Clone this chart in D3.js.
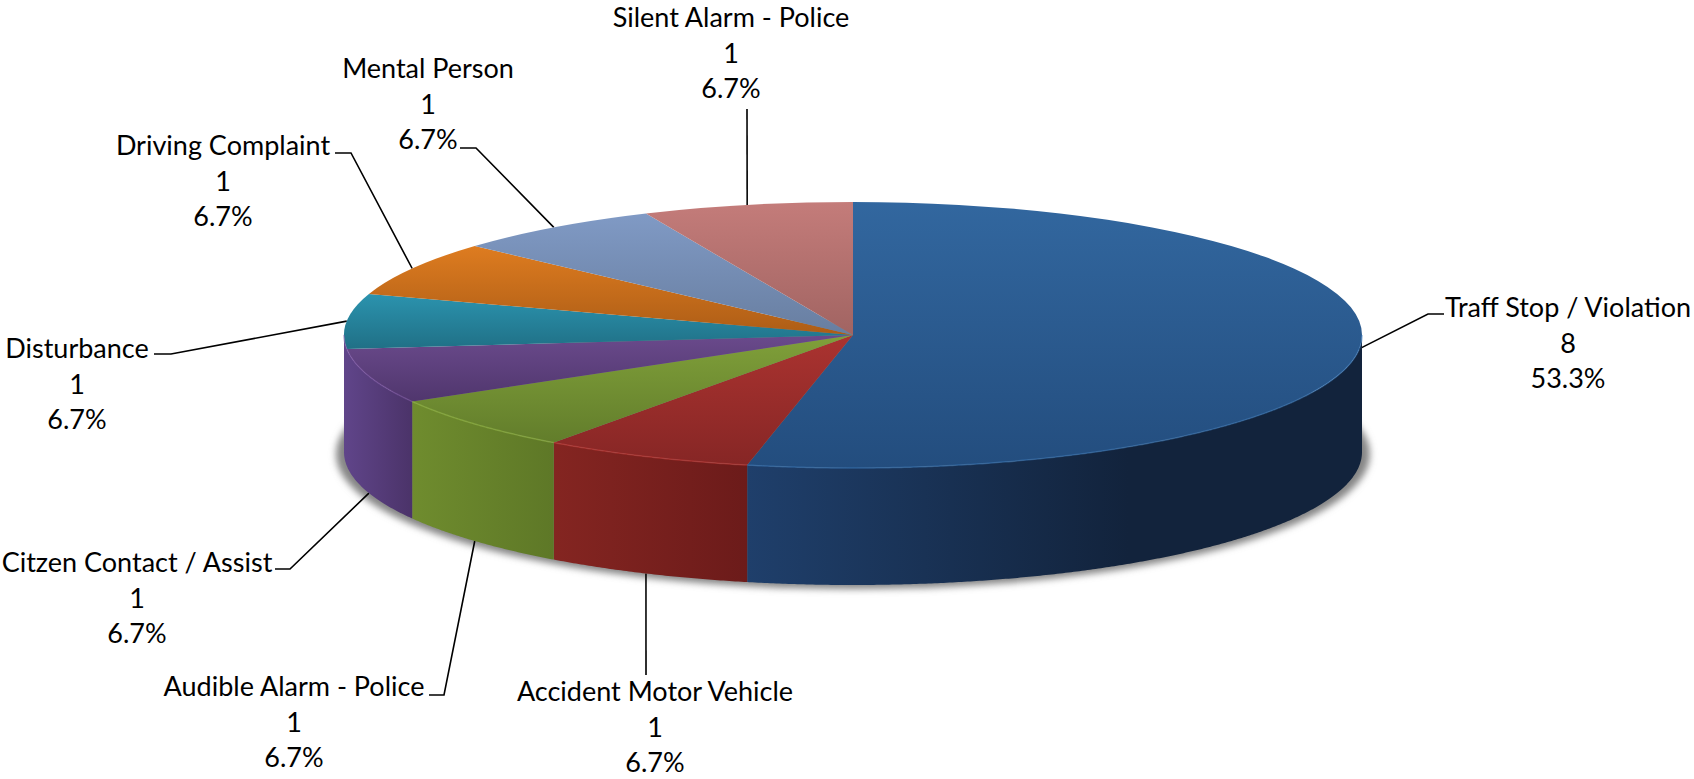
<!DOCTYPE html>
<html lang="en">
<head>
<meta charset="utf-8">
<title>Calls by type</title>
<style>
  html, body { margin: 0; padding: 0; background: #fff; overflow: hidden; }
  text { font-family: Lato, "Open Sans", sans-serif; font-size: 27px; fill: #000; }
</style>
<script src="https://d3js.org/d3.v7.min.js"></script>
</head>
<body>
<script>
// data
const categories = ["Traff Stop / Violation", "Accident Motor Vehicle", "Audible Alarm - Police",
  "Citzen Contact / Assist", "Disturbance", "Driving Complaint", "Mental Person", "Silent Alarm - Police"];
const counts = [8, 1, 1, 1, 1, 1, 1, 1];
const percents = ["53.3%", "6.7%", "6.7%", "6.7%", "6.7%", "6.7%", "6.7%", "6.7%"];

// colours, top face light/dark and side light/dark
const topLight = ["#32679f", "#ab3330", "#80a03a", "#6a4a8c", "#2b93ae", "#de7c20", "#809ac5", "#c47c7a"];
const topDark = ["#234d7e", "#862625", "#627d2b", "#50366d", "#207086", "#ad5d16", "#687ea0", "#a16462"];
const sideLight = ["#1f3f6b", "#842521", "#6f8c2e", "#60458a", "#2a7f99", "#b05f17", "#6b81a3", "#a36664"];
const sideDark = ["#12233c", "#6c1b1a", "#5e7827", "#4b3369", "#1d6478", "#8c4c12", "#566a88", "#835250"];
const sideStop = [0.62, 1, 1, 1, 1, 1, 1, 1];

// label placement: centre x, first line centre y, leader elbow x (null = straight)
const labelX = [1568, 655, 294, 137, 77, 223, 428, 731];
const labelY = [308, 692, 687, 563, 349, 146, 69, 18];
const elbowX = [1428, null, 444, 290, 171, 351, 476, null];
const tailX = [1444, 646, 429, 275, 154, 335, 460, 747];
const tailY = [314, 675, 695, 569, 354, 153, 148, 109];

const width = 1694, height = 779;
const cx = 853, cy = 335, rx = 509, ry = 133, depth = 117;
const lineGap = 35.5;

const svg = d3.select("body").append("svg").attr("width", width).attr("height", height);
const defs = svg.append("defs");

const pie = d3.pie().sort(null).value(d => d);
const slices = pie(counts);

const px = a => cx + rx * Math.sin(a);
const py = a => cy - ry * Math.cos(a);
const midAngle = d => (d.startAngle + d.endAngle) / 2;

defs.append("filter").attr("id", "soft")
  .attr("x", "-5%").attr("y", "-10%").attr("width", "110%").attr("height", "120%")
  .append("feGaussianBlur").attr("stdDeviation", 3.5);

slices.forEach((d, i) => {
  const t = defs.append("linearGradient").attr("id", "top" + i)
    .attr("x1", 0).attr("y1", 0).attr("x2", 0).attr("y2", 1);
  t.append("stop").attr("offset", 0).attr("stop-color", topLight[i]);
  t.append("stop").attr("offset", 1).attr("stop-color", topDark[i]);
  const s = defs.append("linearGradient").attr("id", "side" + i)
    .attr("x1", 0).attr("y1", 0).attr("x2", 1).attr("y2", 0);
  s.append("stop").attr("offset", 0).attr("stop-color", sideLight[i]);
  s.append("stop").attr("offset", sideStop[i]).attr("stop-color", sideDark[i]);
});

// shadow under the disc
svg.append("ellipse")
  .attr("cx", cx).attr("cy", cy + depth + 2)
  .attr("rx", rx + 8).attr("ry", ry + 2)
  .attr("fill", "#858585")
  .attr("filter", "url(#soft)");

// leader lines
const leader = d3.line();
slices.forEach((d, i) => {
  const mid = midAngle(d);
  const front = mid > Math.PI && mid < 1.5 * Math.PI;
  const pts = [[px(mid), py(mid) + (front ? depth : 0)]];
  if (elbowX[i] !== null) pts.push([elbowX[i], tailY[i]]);
  pts.push([tailX[i], tailY[i]]);
  svg.append("path").attr("d", leader(pts))
    .attr("fill", "none").attr("stroke", "#000").attr("stroke-width", 1.6);
});

// the wall of the slice that crosses the far left belongs to its neighbour, as in the picture
const frontLo = Math.PI / 2, frontHi = 1.5 * Math.PI;
const wallRange = (d, i) => {
  if (midAngle(d) > frontHi) return null;
  const next = slices[i + 1];
  const a0 = Math.max(d.startAngle, frontLo);
  const a1 = next && midAngle(next) > frontHi ? frontHi : Math.min(d.endAngle, frontHi);
  return a1 > a0 ? [a0, a1] : null;
};
const rimArc = (a0, a1) => d3.range(a0, a1, 0.006).concat([a1]);

slices.forEach((d, i) => {
  const r = wallRange(d, i);
  if (!r) return;
  const angles = rimArc(r[0], r[1]);
  const pts = angles.map(a => [px(a), py(a)])
    .concat(angles.slice().reverse().map(a => [px(a), py(a) + depth]));
  svg.append("path")
    .attr("d", d3.line()(pts) + "Z")
    .attr("fill", `url(#side${i})`);
});

// top face, a circular pie squashed into an ellipse
const arc = d3.arc().innerRadius(0).outerRadius(rx);
svg.append("g")
  .attr("transform", `translate(${cx},${cy}) scale(1,${ry / rx})`)
  .selectAll("path")
  .data(slices)
  .join("path")
  .attr("d", arc)
  .attr("fill", (d, i) => `url(#top${i})`);

// thin bevel along the front rim
slices.forEach((d, i) => {
  const r = wallRange(d, i);
  if (!r) return;
  svg.append("path")
    .attr("d", d3.line()(rimArc(r[0], r[1]).map(a => [px(a), py(a)])))
    .attr("fill", "none")
    .attr("stroke", d3.color(topLight[i]).brighter(0.5))
    .attr("stroke-width", 1.5)
    .attr("stroke-opacity", 0.5);
});

// labels
const labels = svg.append("g").selectAll("g").data(categories).join("g");
labels.each(function (name, i) {
  [name, counts[i], percents[i]].forEach((line, k) => {
    d3.select(this).append("text")
      .attr("x", labelX[i])
      .attr("y", labelY[i] + k * lineGap)
      .attr("dy", "0.35em")
      .attr("text-anchor", "middle")
      .text(line);
  });
});
</script>
</body>
</html>
